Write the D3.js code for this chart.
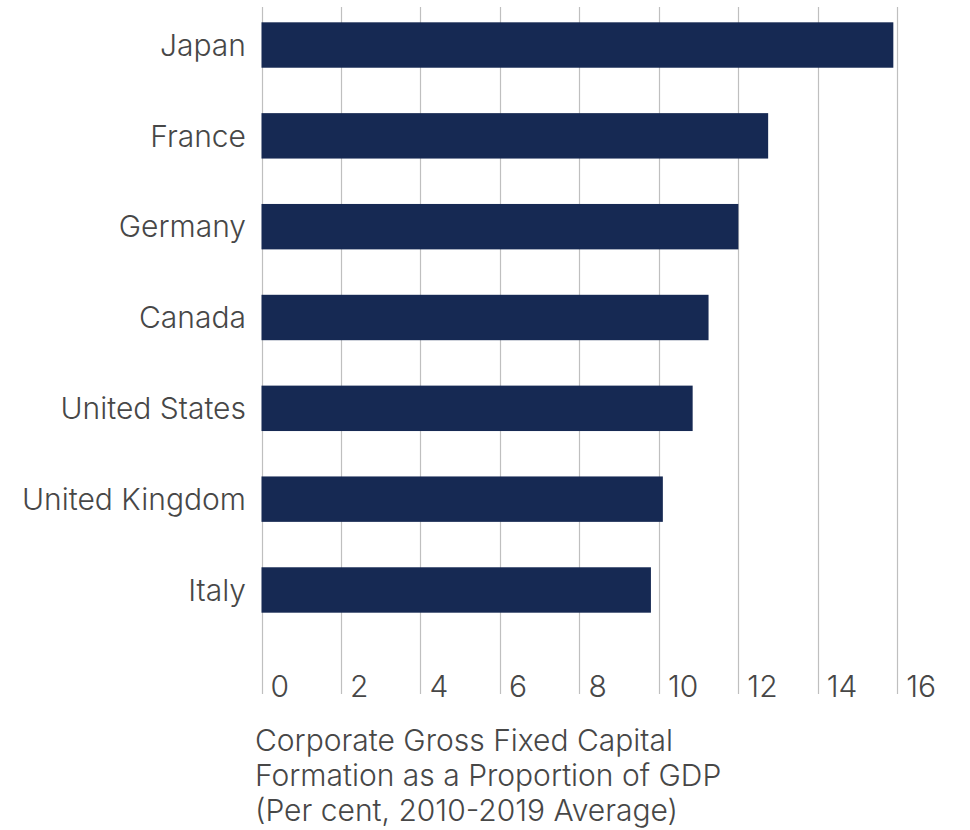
<!DOCTYPE html>
<html><head><meta charset="utf-8">
<script src="https://cdn.jsdelivr.net/npm/d3@7"></script>
<style>body{margin:0;background:#fff}svg{display:block}text{font-family:Inter,"Open Sans",sans-serif;font-weight:300;fill:#474747}</style>
</head><body>
<script>
const countries = ["Japan","France","Germany","Canada","United States","United Kingdom","Italy"];
const values = [15.9, 12.75, 12.0, 11.25, 10.85, 10.1, 9.8];
const ticks = [0,2,4,6,8,10,12,14,16];
const titleLines = ["Corporate Gross Fixed Capital","Formation as a Proportion of GDP","(Per cent, 2010-2019 Average)"];

const W=970,H=830;
const svg=d3.select("body").append("svg").attr("width",W).attr("height",H);
const x=d3.scaleLinear().domain([0,16]).range([261.5,897.3]);
const y=d3.scaleBand().domain(countries).range([-0.4,635.4]).paddingInner(0.5).paddingOuter(0.25);

svg.append("g").selectAll("line").data(ticks).join("line")
  .attr("x1",d=>Math.round(x(d))+0.5).attr("x2",d=>Math.round(x(d))+0.5)
  .attr("y1",7).attr("y2",694).attr("stroke","#bfbfbf").attr("stroke-width",1.2);

svg.append("g").selectAll("rect").data(countries).join("rect")
  .attr("x",x(0)).attr("y",d=>y(d)).attr("height",y.bandwidth())
  .attr("width",(d,i)=>x(values[i])-x(0)).attr("fill","#162953");

svg.append("g").selectAll("text").data(countries).join("text")
  .attr("x",246).attr("y",d=>y(d)+y.bandwidth()/2).attr("dy","0.36em")
  .attr("text-anchor","end").attr("font-size",30).text(d=>d);

svg.append("g").selectAll("text").data(ticks).join("text")
  .attr("x",d=>x(d)+9).attr("y",697).attr("font-size",30).text(d=>d);

svg.append("g").selectAll("text").data(titleLines).join("text")
  .attr("x",255).attr("y",(d,i)=>751+i*35).attr("font-size",30).text(d=>d);
</script>
</body></html>
